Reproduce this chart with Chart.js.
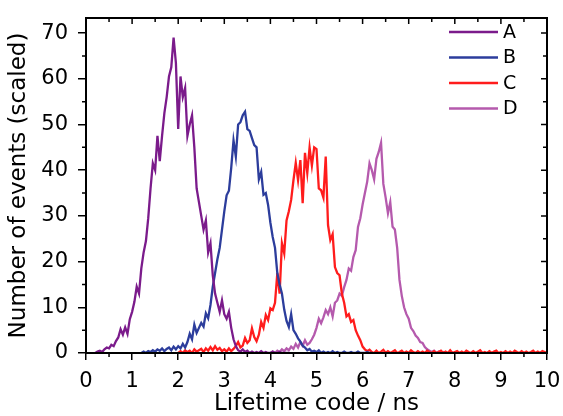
<!DOCTYPE html>
<html>
<head>
<meta charset="utf-8">
<script src="https://cdn.jsdelivr.net/npm/chart.js@4.4.0/dist/chart.umd.min.js"></script>
<style>
  body { margin: 0; background: #fff; }
  canvas { display: block; }
</style>
</head>
<body>
<canvas id="lifetime" width="563" height="416"></canvas>
<script>
// histogram bins, 0.05 ns wide; each series starts at its own x
const binWidth = 0.05;
const seriesNames = ['A', 'B', 'C', 'D'];
const seriesColors = ['#7b1b8b', '#2c3d9c', '#ff1c1c', '#b55aad'];

const startA = 0.20;
const countsA = [0, 0.3, 0.5, 0.2, 0.8, 1.2, 1.0, 1.8, 1.5, 2.6,
  3.4, 5.2, 4.0, 5.6, 4.2, 7.4, 9.0, 11.2, 14.5, 13.0,
  18.5, 22.0, 24.5, 29.5, 36.0, 41.5, 40.0, 47.5, 42.0, 47.5,
  52.5, 56.0, 60.5, 62.5, 69.0, 63.5, 49.0, 60.5, 56.0, 58.0,
  47.5, 50.0, 52.0, 45.0, 36.0, 33.0, 30.0, 27.0, 29.0, 22.0,
  24.0, 17.0, 13.0, 11.0, 9.0, 11.5, 8.5, 7.5, 9.0, 5.5,
  3.0, 1.5, 0.6, 0.3, 0.8, 0.2, 0.5, 0, 0.3, 0,
  0.2, 0, 0.4, 0, 0.2, 0, 0, 0.3, 0, 0, 0.2, 0, 0, 0, 0];

const startB = 1.20;
const countsB = [0, 0.3, 0, 0.4, 0.2, 0.6, 0.3, 0.8, 0.5, 1.0,
  0.4, 0.9, 1.2, 0.6, 1.4, 0.8, 1.5, 1.0, 2.0, 1.2,
  2.4, 4.2, 3.0, 6.2, 4.4, 5.5, 6.6, 5.8, 8.7, 7.6,
  10.5, 14.5, 17.5, 20.5, 23, 27, 31, 34.5, 35.5, 40.5,
  46.5, 43, 50, 50.5, 52, 52.8, 49, 48.6, 47, 45.5,
  45, 38, 39.6, 34.6, 35, 32.4, 28.5, 25.4, 23, 17.5,
  15, 13, 9.5, 7, 5.7, 8.5, 5, 4.2, 3.2, 2.5,
  1.6, 1.2, 0.6, 0.9, 0.3, 0.5, 0.2, 0.6, 0, 0.3,
  0, 0.2, 0, 0.4, 0, 0.2, 0, 0, 0.3, 0,
  0, 0.2, 0, 0, 0.3, 0, 0, 0, 0.2, 0, 0];

const startC = 2.00;
const countsC = [0, 0.4, 0, 0.6, 0.2, 0.5, 0, 0.8, 0.3, 0.6,
  0.9, 0.2, 1.0, 0.5, 1.3, 0.6, 1.5, 0.7, 1.1, 0.4,
  0.8, 0.3, 1.0, 0.4, 0.9, 1.5, 2.4, 1.2, 1.6, 3.3,
  2.2, 2.8, 5.4, 3.5, 2.6, 4.0, 6.8, 5.5, 8.3, 7.2,
  9.8, 9.4, 11, 17.5, 13, 24, 21.8, 29, 31, 33.5,
  37.8, 41.6, 37.8, 42.2, 32.8, 43.8, 39.4, 45, 41, 45,
  44.6, 36, 35.6, 34, 43, 28, 24.7, 26, 18.8, 17.5,
  17, 13, 11, 8, 8.5, 6.8, 7.2, 5, 3.8, 2.8,
  1.4, 0.8, 0.4, 0.7, 0.2, 0, 0.5, 0, 0.3, 0.7,
  0, 0.4, 0, 0.3, 0.6, 0, 0.2, 0.5, 0, 0.3,
  0, 0.6, 0.2, 0, 0.4, 0, 0.3, 0, 0.5, 0.2,
  0, 0.4, 0, 0.2, 0.5, 0, 0.3, 0, 0.6, 0,
  0.2, 0.4, 0, 0.3, 0, 0.5, 0.2, 0, 0.4, 0,
  0.3, 0.6, 0, 0.2, 0, 0.4, 0, 0.3, 0.5, 0,
  0.2, 0, 0.4, 0, 0.3, 0, 0.5, 0.2, 0, 0.4,
  0, 0.3, 0, 0.2, 0.5, 0, 0.3, 0, 0.4, 0.2, 0];

const startD = 4.00;
const countsD = [0, 0.3, 0, 0.5, 0.2, 0.8, 0.4, 1.0, 0.6, 1.4,
  0.9, 2.0, 1.2, 2.4, 1.6, 2.8, 1.8, 2.2, 3.0, 4.0,
  5.5, 7.5, 6.5, 7.8, 9.4, 8.5, 10, 8, 11, 11.5,
  13, 12.5, 14.4, 16, 18.5, 18, 21, 22.5, 27.6, 29.5,
  32.5, 35, 37.5, 41.5, 40, 38, 42.5, 44, 46, 37,
  34, 30.6, 33, 27.6, 27, 23, 16, 12.5, 10, 8.5,
  7.5, 5.5, 4.8, 3.8, 3.3, 2.4, 2.2, 1.3, 0.8, 0.5,
  0.2, 0.5, 0, 0.3, 0, 0.2, 0, 0, 0.3, 0, 0, 0.2, 0];

const xTickLabels = ['0', '1', '2', '3', '4', '5', '6', '7', '8', '9', '10'];
const yTickLabels = ['0', '10', '20', '30', '40', '50', '60', '70'];

function toPoints(start, counts) {
  return counts.map((c, i) => ({ x: +(start + i * binWidth).toFixed(2), y: c }));
}

const allSeries = [
  toPoints(startA, countsA),
  toPoints(startB, countsB),
  toPoints(startC, countsC),
  toPoints(startD, countsD)
];

const tickFont = { family: 'DejaVu Sans', size: 21 };
const titleFont = { family: 'DejaVu Sans', size: 23, lineHeight: 1 };

// box, minor ticks, inward ticks on top/right, and the in-plot legend
const frame = {
  id: 'frame',
  afterDraw(chart) {
    const { ctx, chartArea: a, scales: { x, y } } = chart;
    ctx.save();
    ctx.strokeStyle = '#000';
    ctx.lineWidth = 2;
    ctx.strokeRect(a.left, a.top, a.right - a.left, a.bottom - a.top);
    ctx.lineWidth = 1.5;
    ctx.beginPath();
    for (let k = 0; k <= 20; k++) {
      const px = x.getPixelForValue(k / 2);
      const major = k % 2 === 0;
      if (!major) { ctx.moveTo(px, a.bottom); ctx.lineTo(px, a.bottom + 4); }
      ctx.moveTo(px, a.top); ctx.lineTo(px, a.top + (major ? 6 : 4));
    }
    for (let k = 0; k <= 14; k++) {
      const py = y.getPixelForValue(k * 5);
      const major = k % 2 === 0;
      if (!major) { ctx.moveTo(a.left, py); ctx.lineTo(a.left - 4, py); }
      ctx.moveTo(a.right, py); ctx.lineTo(a.right - (major ? 6 : 4), py);
    }
    ctx.stroke();

    ctx.font = '19px "DejaVu Sans"';
    ctx.textBaseline = 'middle';
    ctx.fillStyle = '#000';
    chart.data.datasets.forEach((ds, i) => {
      const ly = a.top + 14 + i * 25.5;
      ctx.strokeStyle = ds.borderColor;
      ctx.lineWidth = 2.5;
      ctx.beginPath();
      ctx.moveTo(a.left + 363, ly);
      ctx.lineTo(a.left + 412, ly);
      ctx.stroke();
      ctx.fillText(ds.label, a.left + 417, ly + 1);
    });
    ctx.restore();
  }
};

new Chart(document.getElementById('lifetime'), {
  type: 'line',
  data: {
    datasets: allSeries.map((pts, i) => ({
      label: seriesNames[i],
      data: pts,
      borderColor: seriesColors[i],
      borderWidth: 2.3,
      pointRadius: 0,
      tension: 0,
      fill: false
    }))
  },
  options: {
    responsive: false,
    animation: false,
    devicePixelRatio: 1,
    layout: { padding: { top: 18, right: 16, left: 0, bottom: 0 } },
    plugins: { legend: { display: false }, tooltip: { enabled: false } },
    scales: {
      x: {
        type: 'linear',
        min: 0,
        max: 10,
        afterFit(scale) {
          scale.height = 63;
          scale.paddingLeft = 0;
          scale.paddingRight = 0;
        },
        border: { display: false },
        grid: { drawOnChartArea: false, drawTicks: true, tickLength: 7, color: '#000', lineWidth: 1.5 },
        ticks: {
          stepSize: 1,
          padding: 9,
          color: '#000',
          font: tickFont,
          maxRotation: 0,
          callback: (v) => xTickLabels[v] ?? ''
        },
        title: { display: true, text: 'Lifetime code / ns', color: '#000', font: titleFont, padding: { top: 0, bottom: 0 } }
      },
      y: {
        min: 0,
        max: 73.3,
        afterFit(scale) {
          scale.width = 86;
          scale.paddingTop = 0;
          scale.paddingBottom = 0;
        },
        border: { display: false },
        grid: { drawOnChartArea: false, drawTicks: true, tickLength: 8, color: '#000', lineWidth: 1.5 },
        ticks: {
          stepSize: 10,
          includeBounds: false,
          padding: 10,
          color: '#000',
          font: tickFont,
          callback: (v) => yTickLabels[v / 10] ?? ''
        },
        title: { display: true, text: 'Number of events (scaled)', color: '#000', font: titleFont, padding: { top: 8, bottom: 0 } }
      }
    }
  },
  plugins: [frame]
});
</script>
</body>
</html>
